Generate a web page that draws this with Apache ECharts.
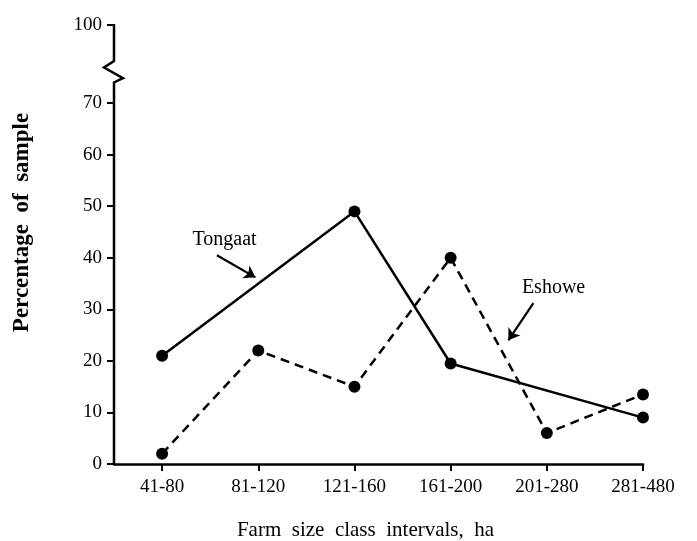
<!DOCTYPE html>
<html>
<head>
<meta charset="utf-8">
<script src="https://cdn.jsdelivr.net/npm/echarts@6/dist/echarts.min.js"></script>
<style>
	html, body { margin: 0; padding: 0; background: #fff; }
	#chart { width: 697px; height: 541px; }
</style>
</head>
<body>
<div id="chart"></div>
<script>
// farm size classes (ha)
const sizeClasses = ['41-80', '81-120', '121-160', '161-200', '201-280', '281-480'];
// percentage of sample
const tongaat = [21, null, 49, 19.5, null, 9];
const eshowe = [2, 22, 15, 40, 6, 13.5];
const yTickValues = [0, 10, 20, 30, 40, 50, 60, 70, 100];
const xTickValues = [0, 1, 2, 3, 4, 5];

const font = 'Liberation Serif';
const chart = echarts.init(document.getElementById('chart'));

const toPoints = (arr) => arr.map((v, i) => [i, v]);

const option = {
	animation: false,
	backgroundColor: '#fff',
	grid: { left: 114, right: 54, top: 25, bottom: 77, outerBoundsMode: 'none', containLabel: false },
	xAxis: {
		type: 'value',
		min: -0.5,
		max: 5,
		name: 'Farm  size  class  intervals,  ha',
		nameLocation: 'middle',
		nameGap: 56,
		nameTextStyle: { fontFamily: font, fontSize: 21, color: '#000', padding: [0, 26, 0, 0] },
		axisLine: { show: true, lineStyle: { color: '#000', width: 2.5 } },
		axisTick: { show: true, length: 7, lineStyle: { color: '#000', width: 2 }, customValues: xTickValues },
		axisLabel: {
			color: '#000',
			fontFamily: font,
			fontSize: 19,
			margin: 14,
			customValues: xTickValues,
			formatter: (v) => sizeClasses[v] || '',
		},
		splitLine: { show: false },
	},
	yAxis: {
		type: 'value',
		min: 0,
		max: 100,
		interval: 10,
		breaks: [{ start: 74, end: 93, gap: 4.15 }],
		breakArea: { show: false, itemStyle: { color: 'transparent', borderColor: 'transparent' } },
		name: 'Percentage  of  sample',
		nameLocation: 'middle',
		nameGap: 80,
		nameTextStyle: { fontFamily: font, fontSize: 23, fontWeight: 'bold', color: '#000', padding: [0, 0, 0, 44] },
		axisLine: { show: false, onZero: false },
		axisTick: { show: true, length: 7, lineStyle: { color: '#000', width: 2 }, customValues: yTickValues },
		axisLabel: { color: '#000', fontFamily: font, fontSize: 19, margin: 12, customValues: yTickValues },
		splitLine: { show: false },
	},
	series: [
		{
			name: 'Tongaat',
			type: 'line',
			data: toPoints(tongaat),
			connectNulls: true,
			symbol: 'circle',
			symbolSize: 12,
			lineStyle: { color: '#000', width: 2.5 },
			itemStyle: { color: '#000' },
			markPoint: {
				symbol: 'circle',
				symbolSize: 1,
				itemStyle: { color: 'transparent' },
				label: { show: true, position: 'inside', color: '#000', fontFamily: font, fontSize: 20 },
				data: [{ name: 'Tongaat', coord: [0.65, 43.4], label: { formatter: 'Tongaat' } }],
			},
			markLine: {
				silent: true,
				symbol: ['none', 'arrow'],
				symbolSize: 11,
				label: { show: false },
				lineStyle: { color: '#000', width: 2.2, type: 'solid' },
				data: [[{ coord: [0.57, 40.5] }, { coord: [0.97, 36.2] }]],
			},
		},
		{
			name: 'Eshowe',
			type: 'line',
			data: toPoints(eshowe),
			symbol: 'circle',
			symbolSize: 12,
			lineStyle: { color: '#000', width: 2.5, type: [9, 6] },
			itemStyle: { color: '#000' },
			markPoint: {
				symbol: 'circle',
				symbolSize: 1,
				itemStyle: { color: 'transparent' },
				label: { show: true, position: 'inside', color: '#000', fontFamily: font, fontSize: 20 },
				data: [{ name: 'Eshowe', coord: [4.07, 34.1], label: { formatter: 'Eshowe' } }],
			},
			markLine: {
				silent: true,
				symbol: ['none', 'arrow'],
				symbolSize: 11,
				label: { show: false },
				lineStyle: { color: '#000', width: 2.2, type: 'solid' },
				data: [[{ coord: [3.86, 31.2] }, { coord: [3.6, 24.0] }]],
			},
		},
	],
};

chart.setOption(option);

// y axis line drawn by hand so it can carry the zigzag break mark
const px = (x, y) => chart.convertToPixel({ gridIndex: 0 }, [x, y]);
const x0 = px(-0.5, 0)[0];
const yBottom = px(-0.5, 0)[1];
const yLow = px(-0.5, 74)[1];
const yHigh = px(-0.5, 93)[1];
const yTop = px(-0.5, 100)[1];
const span = yLow - yHigh;
chart.setOption({
	graphic: [
		{
			type: 'polyline',
			shape: {
				points: [
					[x0, yBottom + 1],
					[x0, yLow],
					[x0 + 9, yLow - span * 0.2],
					[x0 - 10, yHigh + span * 0.3],
					[x0, yHigh],
					[x0, yTop - 1],
				],
			},
			style: { stroke: '#000', lineWidth: 2.5, fill: null },
			z: 10,
		},
	],
});
</script>
</body>
</html>
